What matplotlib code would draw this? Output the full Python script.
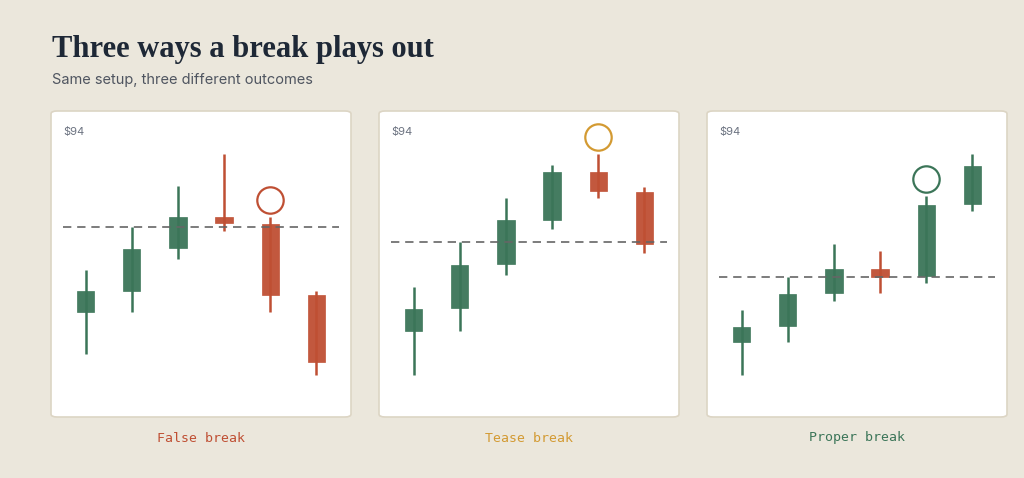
import numpy as np
import matplotlib
matplotlib.use("Agg")
import matplotlib.pyplot as plt
from matplotlib.patches import FancyBboxPatch

## DATA ##
PANEL_TITLES = ["False break", "Tease break", "Proper break"]
TOP_LABEL = "$94"

# open, close, high, low per candle
FALSE_OPEN = [86.80, 87.64, 89.36, 90.60, 90.32, 87.48]
FALSE_CLOSE = [87.64, 89.32, 90.60, 90.36, 87.48, 84.80]
FALSE_HIGH = [88.48, 90.20, 91.84, 93.12, 90.60, 87.64]
FALSE_LOW = [85.12, 86.80, 88.92, 90.04, 86.80, 84.28]
FALSE_LEVEL = 90.19

TEASE_OPEN = [86.05, 86.95, 88.71, 90.48, 92.41, 91.61]
TEASE_CLOSE = [86.92, 88.69, 90.47, 92.41, 91.64, 89.52]
TEASE_HIGH = [87.81, 89.59, 91.35, 92.68, 93.13, 91.79]
TEASE_LOW = [84.28, 86.05, 88.27, 90.13, 91.36, 89.15]
TEASE_LEVEL = 89.59

PROPER_OPEN = [85.60, 86.25, 87.56, 88.52, 88.24, 91.11]
PROPER_CLOSE = [86.21, 87.53, 88.52, 88.21, 91.07, 92.65]
PROPER_HIGH = [86.88, 88.21, 89.51, 89.24, 91.45, 93.13]
PROPER_LOW = [84.28, 85.60, 87.24, 87.56, 87.95, 90.84]
PROPER_LEVEL = 88.21

BREAK_INDEX = 4

## STYLE ##
BG = "#ebe7dc"
GREEN = "#3b7558"
RED = "#bf4f33"
GOLD = "#d39a32"
TITLE_COLORS = [RED, GOLD, GREEN]
CIRCLE_COLORS = [RED, GOLD, GREEN]

PANELS = [
	(FALSE_OPEN, FALSE_CLOSE, FALSE_HIGH, FALSE_LOW, FALSE_LEVEL),
	(TEASE_OPEN, TEASE_CLOSE, TEASE_HIGH, TEASE_LOW, TEASE_LEVEL),
	(PROPER_OPEN, PROPER_CLOSE, PROPER_HIGH, PROPER_LOW, PROPER_LEVEL),
]

W, H = 1024, 478
fig = plt.figure(figsize = (W / 100, H / 100), dpi = 100)
fig.patch.set_facecolor(BG)

def fx(px):
	return px / W

def fy(py):
	return 1 - py / H

fig.text(
	fx(52), fy(50), "Three ways a break plays out",
	family = "Liberation Serif", weight = "bold", fontsize = 22,
	color = "#1e2836", va = "center", ha = "left"
)
fig.text(
	fx(52), fy(80), "Same setup, three different outcomes",
	family = "Inter", fontsize = 10.5, color = "#4f5560",
	va = "center", ha = "left"
)

panel_lefts = [51, 379, 707]
panel_top, panel_bottom, panel_w = 111, 417, 300

for i, (opens, closes, highs, lows, level) in enumerate(PANELS):
	left = panel_lefts[i]
	box = FancyBboxPatch(
		(fx(left), fy(panel_bottom)),
		fx(panel_w), (panel_bottom - panel_top) / H,
		boxstyle = "round,pad=0,rounding_size=0.006",
		transform = fig.transFigure,
		facecolor = "white", edgecolor = "#dcd5c4", linewidth = 1.2,
		zorder = -1
	)
	fig.patches.append(box)

	ax = fig.add_axes([
		fx(left), fy(panel_bottom), fx(panel_w), (panel_bottom - panel_top) / H
	])
	ax.set_zorder(2)
	ax.set_facecolor("none")
	ax.set_xlim(-0.76, 5.76)
	ax.set_ylim(94 - (417 - 132) / 25, 94 + (132 - 111) / 25)
	ax.axis("off")

	x = np.arange(len(opens))
	opens = np.array(opens)
	closes = np.array(closes)
	colors = [GREEN if c >= o else RED for o, c in zip(opens, closes)]

	ax.bar(
		x, np.abs(closes - opens), bottom = np.minimum(opens, closes),
		width = 0.37, color = colors, alpha = 0.95, zorder = 2,
		edgecolor = colors, linewidth = 0.5
	)
	ax.vlines(x, lows, highs, colors = colors, linewidth = 1.8, zorder = 3)

	ax.plot(
		[-0.5, 5.5], [level, level], color = "#666666", linewidth = 1.2,
		linestyle = (0, (5, 3.5)), zorder = 4
	)

	ax.plot(
		[BREAK_INDEX], [highs[BREAK_INDEX] + 0.69], marker = "o",
		markersize = 19, markerfacecolor = "none",
		markeredgecolor = CIRCLE_COLORS[i], markeredgewidth = 1.6, zorder = 5
	)

	ax.text(
		0.04, 0.93, TOP_LABEL, transform = ax.transAxes,
		family = "Inter", fontsize = 8, color = "#6b7280",
		ha = "left", va = "center"
	)

	fig.text(
		fx(left + panel_w / 2), fy(438), PANEL_TITLES[i],
		family = "DejaVu Sans Mono", fontsize = 9.5,
		color = TITLE_COLORS[i], ha = "center", va = "center"
	)

fig.savefig("out.png", dpi = 100, facecolor = BG)
